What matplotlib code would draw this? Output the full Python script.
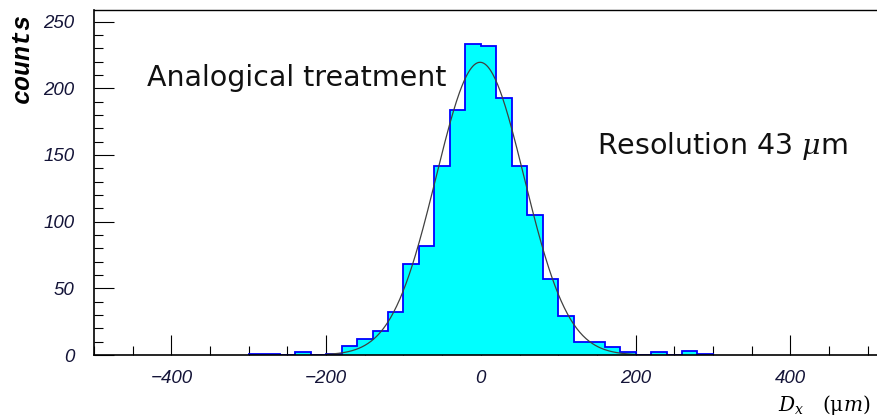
import numpy as np
import matplotlib.pyplot as plt
from matplotlib.ticker import MultipleLocator

# histogram of D_x residuals, 20 um bins
bin_edges = list(range(-300, 301, 20))
counts = [1, 1, 0, 2, 0, 1, 7, 12, 18, 32,
          68, 82, 142, 184, 233, 232, 193, 142, 105, 57,
          29, 10, 10, 6, 2, 0, 2, 0, 3, 1]

# gaussian fit parameters (amplitude, mean, sigma) and drawing range
fit_amp = 219.5
fit_mean = -1.0
fit_sigma = 57.0
fit_range = (-200, 200)

label_text = 'Analogical treatment'
res_text = r'Resolution 43 $\mu$m'

plt.rcParams['mathtext.fontset'] = 'dejavuserif'

fig = plt.figure(figsize=(8.77, 4.19), dpi=100)
ax = fig.add_axes([94 / 877, 1 - 355 / 419, 1 - 94 / 877, 345 / 419])

ax.stairs(counts, bin_edges, fill=True, color='#00ffff', zorder=2)
ax.stairs(counts, bin_edges, color='#0000ff', linewidth=1.3, zorder=3)

xf = np.linspace(fit_range[0], fit_range[1], 400)
yf = fit_amp * np.exp(-0.5 * ((xf - fit_mean) / fit_sigma) ** 2)
ax.plot(xf, yf, color='#404040', linewidth=0.9, zorder=4)

ax.set_xlim(-500, 512)
ax.set_ylim(0, 258.7)

ax.xaxis.set_major_locator(MultipleLocator(200))
ax.xaxis.set_minor_locator(MultipleLocator(50))
ax.yaxis.set_major_locator(MultipleLocator(50))
ax.yaxis.set_minor_locator(MultipleLocator(10))

ax.tick_params(which='both', direction='in', top=False, right=False, width=0.8, color='black')
ax.tick_params(which='major', length=14.4)
ax.tick_params(which='minor', length=6.8)
ax.tick_params(axis='x', which='major', pad=11)
ax.tick_params(axis='y', which='major', pad=14)

for lab in ax.get_xticklabels() + ax.get_yticklabels():
    lab.set_family('Liberation Sans')
    lab.set_style('italic')
    lab.set_fontsize(13.5)
    lab.set_color('#141438')

for side in ['left', 'bottom']:
    ax.spines[side].set_linewidth(1.2)
    ax.spines[side].set_zorder(5)
ax.spines['top'].set_linewidth(1.0)
ax.spines['right'].set_visible(False)

ax.text(-432, 208, label_text, fontsize=20.5, va='center', ha='left', color='#111111')
ax.text(150, 157, res_text, fontsize=20.5, va='center', ha='left', color='#111111')

fig.text(22 / 877, 1 - 58 / 419, 'counts', rotation=90, ha='center', va='center',
         family='Liberation Mono', weight='bold', style='italic', fontsize=18)
fig.text(870 / 877, 1 - 405 / 419, r'$D_x$   $(\mathrm{\mu}m)$', ha='right', va='center',
         fontsize=14.5)

fig.savefig('out.png', dpi=100)
